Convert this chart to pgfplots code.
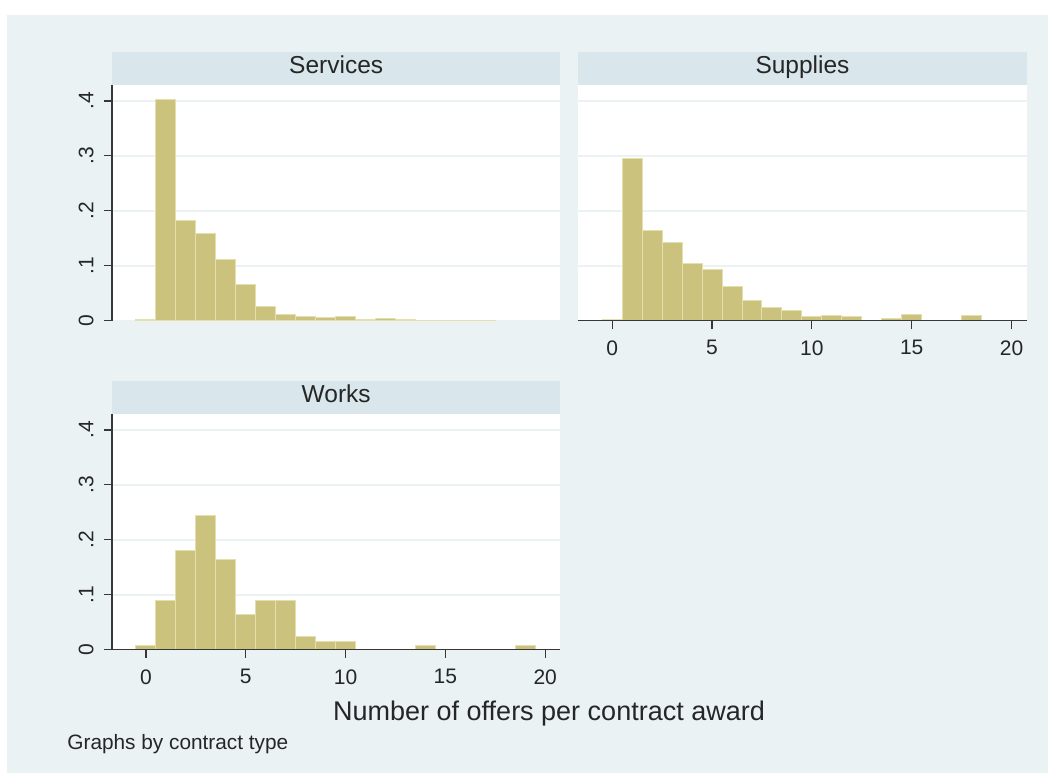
\documentclass[border=0pt]{standalone}
\usepackage{fontspec}
\setmainfont{Liberation Sans}
\usepackage{pgfplots}
\pgfplotsset{compat=1.18}

\definecolor{statabg}{RGB}{234,242,243}
\definecolor{stripbg}{RGB}{217,230,235}
\definecolor{barfill}{RGB}{202,194,125}
\definecolor{baredge}{RGB}{228,223,172}
\definecolor{axisgray}{RGB}{55,55,55}

% grid under the bars, axis lines over them
\pgfplotsset{
  layers/gridbelow/.define layer set={
    axis background,axis grid,main,axis ticks,axis lines,
    axis tick labels,axis descriptions,axis foreground
  }{/pgfplots/layers/standard},
}

\pgfplotsset{
  panel/.style={
    scale only axis, width=224.2pt, height=117.85pt,
    xmin=-1.70, xmax=20.76, ymin=0, ymax=0.429,
    axis lines*=left,
    axis line style={axisgray, line width=0.6pt},
    tick align=outside, major tick length=4.25pt,
    tick style={axisgray, line width=0.6pt},
    ytick={0,0.1,0.2,0.3,0.4},
    yticklabels={0,.1,.2,.3,.4},
    xtick={0,5,10,15,20},
    xticklabels={0,5,10,15,20},
    ymajorgrids,
    major grid style={statabg, line width=0.85pt},
    axis background/.style={fill=white},
    ticklabel style={font=\fontsize{10.5}{12}\selectfont, text=black!85},
    yticklabel style={rotate=90, anchor=base, inner sep=0pt},
    xticklabel style={anchor=north, inner sep=0pt},
    yticklabel shift=5.1pt,
    xticklabel shift=5.4pt,
    every axis title/.style={at={(0.5,1)}, anchor=south, fill=stripbg,
      minimum width=224.2pt, minimum height=16.5pt, inner sep=0pt,
      text height=8.8pt, text depth=3pt,
      font=\fontsize{12.25}{14}\selectfont, text=black!85},
  },
  bars/.style={ybar interval, fill=barfill, draw=baredge, line width=0.5pt},
}

\begin{document}
\begin{tikzpicture}
\pgfplotsset{set layers=gridbelow}
\begin{pgfonlayer}{axis background}
\fill[white] (0pt,0pt) rectangle (524pt,387pt);
\fill[statabg] (3.5pt,0.5pt) rectangle (524pt,379.5pt);
\end{pgfonlayer}

% Services
\begin{axis}[panel, at={(56pt,226.65pt)}, anchor=south west,
  title={Services},
  x axis line style={draw=none}, xtick=\empty]
\addplot[bars] coordinates {
  (-0.5,0.003) (0.5,0.4024) (1.5,0.182) (2.5,0.158) (3.5,0.1115)
  (4.5,0.066) (5.5,0.0267) (6.5,0.0115) (7.5,0.0073) (8.5,0.0055)
  (9.5,0.0085) (10.5,0.0024) (11.5,0.0042) (12.5,0.003) (13.5,0.0012)
  (14.5,0.0012) (15.5,0.0012) (16.5,0.0012) (17.5,0)
};
\end{axis}

% Supplies
\begin{axis}[panel, at={(289.15pt,226.65pt)}, anchor=south west,
  title={Supplies},
  y axis line style={draw=none}, yticklabels={}, ytick style={draw=none}]
\addplot[bars] coordinates {
  (-0.5,0.0024) (0.5,0.295) (1.5,0.1636) (2.5,0.1418) (3.5,0.104)
  (4.5,0.0933) (5.5,0.0618) (6.5,0.0364) (7.5,0.0242) (8.5,0.0188)
  (9.5,0.0073) (10.5,0.0097) (11.5,0.0073) (12.5,0.0012) (13.5,0.0036)
  (14.5,0.0115) (15.5,0.0012) (16.5,0)
};
\addplot[bars] coordinates {(17.5,0.0097) (18.5,0)};
\end{axis}

% Works
\begin{axis}[panel, at={(56pt,62.15pt)}, anchor=south west,
  title={Works}]
\addplot[bars] coordinates {
  (-0.5,0.0079) (0.5,0.0903) (1.5,0.18) (2.5,0.2448) (3.5,0.1636)
  (4.5,0.0648) (5.5,0.0903) (6.5,0.0903) (7.5,0.0242) (8.5,0.0158)
  (9.5,0.0158) (10.5,0)
};
\addplot[bars] coordinates {(13.5,0.0079) (14.5,0)};
\addplot[bars] coordinates {(18.5,0.0079) (19.5,0)};
\end{axis}

\node[anchor=base, inner sep=0pt, font=\fontsize{13.5}{16}\selectfont, text=black!85]
  at (274.5pt,26.65pt) {Number of offers per contract award};
\node[anchor=base west, inner sep=0pt, font=\fontsize{10.4}{12}\selectfont, text=black!85]
  at (33.5pt,12.35pt) {Graphs by contract type};
\end{tikzpicture}
\end{document}
